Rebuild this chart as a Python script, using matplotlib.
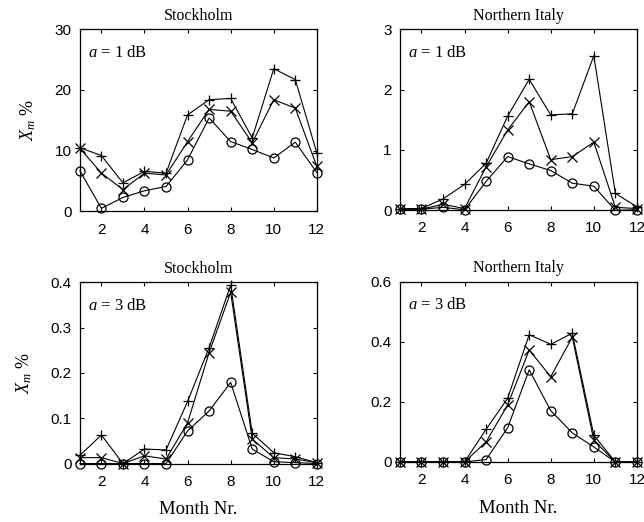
import matplotlib
matplotlib.use("Agg")
import matplotlib.pyplot as plt

plt.rcParams['mathtext.fontset'] = 'custom'
plt.rcParams['mathtext.rm'] = 'Liberation Serif'
plt.rcParams['mathtext.it'] = 'Liberation Serif:italic'

months = list(range(1, 13))

# Stockholm, a = 1 dB
sto1_plus = [10.5, 9.2, 4.7, 6.6, 6.3, 15.9, 18.4, 18.6, 12.1, 23.5, 21.7, 9.6]
sto1_x = [10.4, 6.3, 3.6, 6.3, 6.0, 11.5, 16.8, 16.5, 11.3, 18.4, 17.0, 7.4]
sto1_o = [6.7, 0.5, 2.3, 3.4, 4.1, 8.5, 15.4, 11.5, 10.2, 8.8, 11.4, 6.4]

# Northern Italy, a = 1 dB
ita1_plus = [0.03, 0.03, 0.19, 0.43, 0.78, 1.56, 2.17, 1.58, 1.60, 2.56, 0.28, 0.06]
ita1_x = [0.02, 0.02, 0.10, 0.03, 0.72, 1.33, 1.80, 0.84, 0.89, 1.13, 0.05, 0.03]
ita1_o = [0.02, 0.02, 0.05, 0.01, 0.48, 0.89, 0.77, 0.66, 0.45, 0.40, 0.0, 0.01]

# Stockholm, a = 3 dB
sto3_plus = [0.018, 0.063, 0.0, 0.032, 0.030, 0.137, 0.256, 0.394, 0.067, 0.024, 0.015, 0.002]
sto3_x = [0.013, 0.013, 0.0, 0.017, 0.010, 0.090, 0.245, 0.378, 0.054, 0.013, 0.010, 0.002]
sto3_o = [0.0, 0.0, 0.0, 0.0, 0.0, 0.072, 0.116, 0.179, 0.032, 0.004, 0.002, 0.0]

# Northern Italy, a = 3 dB
ita3_plus = [0.0, 0.0, 0.0, 0.0, 0.109, 0.212, 0.424, 0.392, 0.429, 0.089, 0.0, 0.0]
ita3_x = [0.0, 0.0, 0.0, 0.0, 0.067, 0.190, 0.373, 0.284, 0.416, 0.072, 0.0, 0.0]
ita3_o = [0.0, 0.0, 0.0, 0.0, 0.008, 0.114, 0.307, 0.171, 0.097, 0.050, 0.0, 0.0]

xticks = [2, 4, 6, 8, 10, 12]

panels = [
    dict(pos=[0.124, 0.595, 0.368, 0.349], title="Stockholm", ann=r"$a$ = 1 dB",
         data=(sto1_plus, sto1_x, sto1_o), ylim=(0, 30), yticks=[0, 10, 20, 30],
         yfmt=["0", "10", "20", "30"], ylabel=True, xlabel=False),
    dict(pos=[0.621, 0.597, 0.368, 0.347], title="Northern Italy", ann=r"$a$ = 1 dB",
         data=(ita1_plus, ita1_x, ita1_o), ylim=(0, 3), yticks=[0, 1, 2, 3],
         yfmt=["0", "1", "2", "3"], ylabel=False, xlabel=False),
    dict(pos=[0.124, 0.112, 0.368, 0.347], title="Stockholm", ann=r"$a$ = 3 dB",
         data=(sto3_plus, sto3_x, sto3_o), ylim=(0, 0.4), yticks=[0, 0.1, 0.2, 0.3, 0.4],
         yfmt=["0", "0.1", "0.2", "0.3", "0.4"], ylabel=True, xlabel=True),
    dict(pos=[0.621, 0.115, 0.368, 0.345], title="Northern Italy", ann=r"$a$ = 3 dB",
         data=(ita3_plus, ita3_x, ita3_o), ylim=(0, 0.6), yticks=[0, 0.2, 0.4, 0.6],
         yfmt=["0", "0.2", "0.4", "0.6"], ylabel=False, xlabel=True),
]

fig = plt.figure(figsize=(6.44, 5.22), dpi=100)
serif = "Liberation Serif"
sans = "Liberation Sans"

for p in panels:
    ax = fig.add_axes(p["pos"])
    plus, xs, os_ = p["data"]
    kw = dict(color="black", linewidth=0.8, markersize=6.5, markeredgewidth=0.9, clip_on=False)
    ax.plot(months, os_, marker="o", fillstyle="none", **kw)
    ax.plot(months, xs, marker="x", **kw)
    ax.plot(months, plus, marker="+", **kw)
    ax.set_xlim(1, 12)
    ax.set_ylim(*p["ylim"])
    ax.set_xticks(xticks)
    ax.set_xticklabels([str(t) for t in xticks], fontfamily=sans, fontsize=11)
    ax.set_yticks(p["yticks"])
    ax.set_yticklabels(p["yfmt"], fontfamily=sans, fontsize=11)
    ax.tick_params(direction="in", top=True, right=True, length=3, width=0.8, pad=6)
    ax.tick_params(axis="x", pad=8)
    for s in ax.spines.values():
        s.set_linewidth(0.9)
    ax.set_title(p["title"], fontfamily=serif, fontsize=11.5, pad=7)
    ax.text(0.035, 0.87, p["ann"], transform=ax.transAxes, fontfamily=serif,
            fontsize=12, ha="left", va="center")
    if p["ylabel"]:
        ax.set_ylabel(r"$X_m$ %", fontfamily=serif, fontsize=13, labelpad=12)
    if p["xlabel"]:
        ax.set_xlabel("Month Nr.", fontfamily=serif, fontsize=13.5, labelpad=9)

fig.savefig("out.png", dpi=100)
